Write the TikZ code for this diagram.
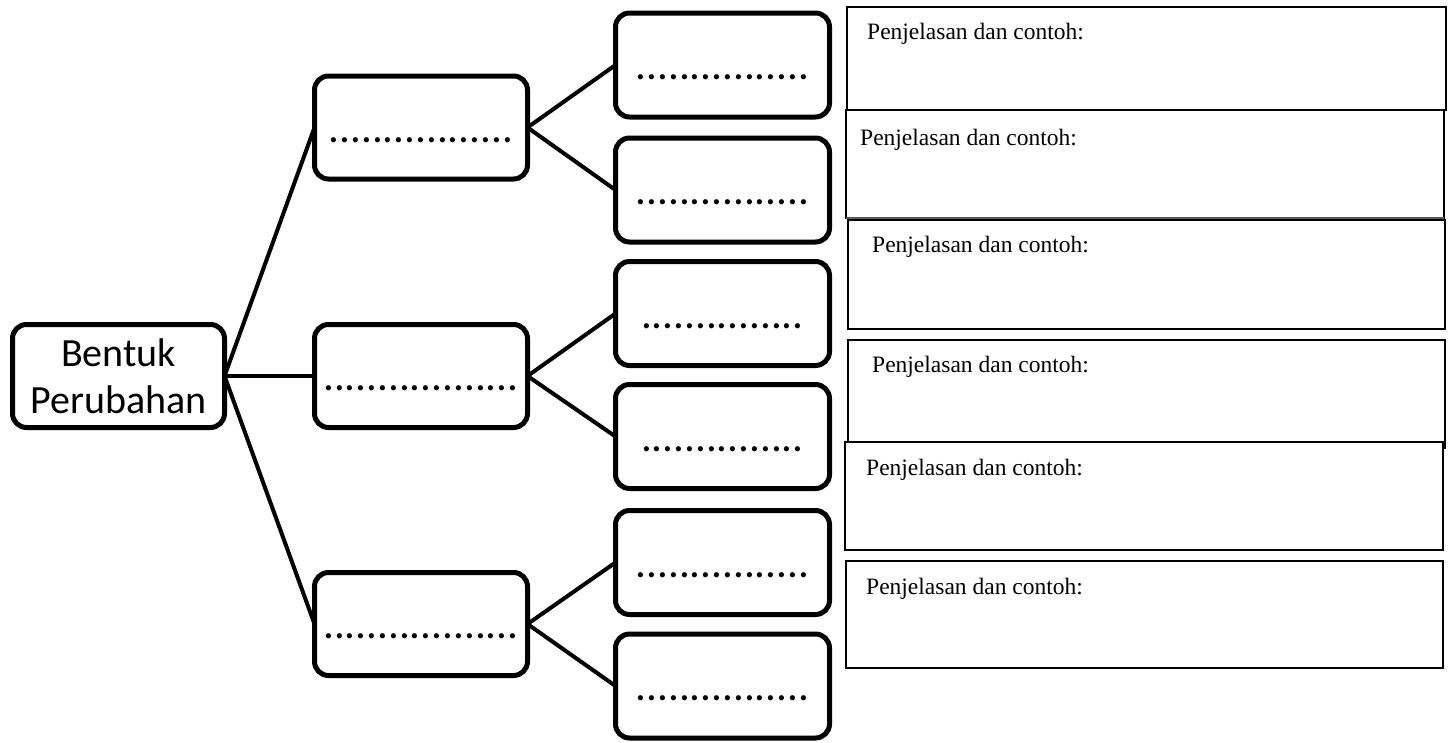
\documentclass[tikz,border=0pt]{standalone}
\usepackage{fontspec}
\setmainfont{Liberation Serif}
\newfontfamily\carlito{Carlito}
\begin{document}
\begin{tikzpicture}[x=1pt,y=-1pt,
  boxbase/.style={draw, line width=5pt, rounded corners=14pt, inner sep=0pt, outer sep=0pt, fill=white},
  rbox/.style={boxbase, minimum width=213pt, minimum height=103pt,
    font=\carlito\fontsize{43}{50}\selectfont, text height=38pt, text depth=9pt},
  leaf/.style={rbox, minimum width=214pt, minimum height=104pt},
  rootbox/.style={boxbase, minimum width=212pt, minimum height=103pt, align=center,
    font=\carlito\fontsize{40}{47}\selectfont},
  conn/.style={line width=4pt},
  panel/.style={draw, line width=1.1pt, fill=white, inner sep=0pt, outer sep=0pt, anchor=north west},
  ptext/.style={font=\fontsize{23.5}{28}\selectfont, inner sep=0pt, anchor=base west}]
\useasboundingbox (0,0) rectangle (1450,742);

% root
\node[rootbox] (root) at (118.5,376) {Bentuk\\Perubahan};

% middle boxes
\node[rbox] (m1) at (421,127.5) {.................};
\node[rbox] (m2) at (421,376) {..................};
\node[rbox] (m3) at (421,624) {..................};

% leaves
\node[leaf] (l1) at (722.5,65) {................};
\node[leaf] (l2) at (722.5,190) {................};
\node[leaf] (l3) at (722.5,313.5) {...............};
\node[leaf] (l4) at (722.5,436.5) {...............};
\node[leaf] (l5) at (722.5,562.5) {................};
\node[leaf] (l6) at (722.5,686) {................};

% connectors
\draw[conn] (root.east) -- (m1.west);
\draw[conn] (root.east) -- (m2.west);
\draw[conn] (root.east) -- (m3.west);
\draw[conn] (m1.east) -- (l1.west);
\draw[conn] (m1.east) -- (l2.west);
\draw[conn] (m2.east) -- (l3.west);
\draw[conn] (m2.east) -- (l4.west);
\draw[conn] (m3.east) -- (l5.west);
\draw[conn] (m3.east) -- (l6.west);

% panels
\node[panel, minimum width=599pt, minimum height=103pt] (p1) at (847,7) {};
\node[panel, minimum width=598pt, minimum height=108pt] (p2) at (846,110) {};
\draw[line width=2.5pt, black!65] (p2.south west) -- (p2.south east);
\node[panel, minimum width=597pt, minimum height=109pt] (p3) at (848,220) {};
\node[panel, minimum width=597pt, minimum height=108pt] (p4) at (848,340) {};
\node[panel, minimum width=598pt, minimum height=108pt] (p5) at (845,442) {};
\node[panel, minimum width=597pt, minimum height=107pt] (p6) at (846,561) {};

\node[ptext] (t1) at ([xshift=20pt,yshift=-32pt]p1.north west) {Penjelasan dan contoh:};
\node[ptext] (t2) at ([xshift=14pt,yshift=-35pt]p2.north west) {Penjelasan dan contoh:};
\node[ptext] (t3) at ([xshift=24pt,yshift=-32pt]p3.north west) {Penjelasan dan contoh:};
\node[ptext] (t4) at ([xshift=24pt,yshift=-32pt]p4.north west) {Penjelasan dan contoh:};
\node[ptext] (t5) at ([xshift=21pt,yshift=-33pt]p5.north west) {Penjelasan dan contoh:};
\node[ptext] (t6) at ([xshift=20pt,yshift=-33pt]p6.north west) {Penjelasan dan contoh:};
\end{tikzpicture}
\end{document}
